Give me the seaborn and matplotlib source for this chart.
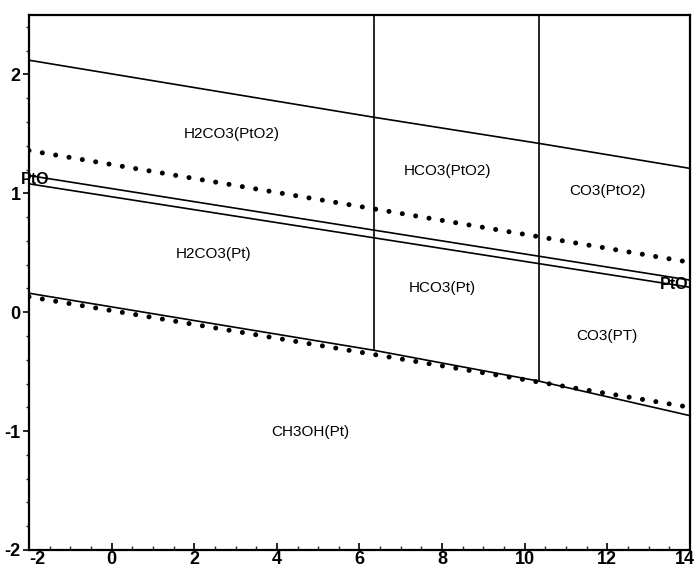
import numpy as np
import pandas as pd
import matplotlib
matplotlib.use("Agg")
import matplotlib.pyplot as plt
import matplotlib.transforms as mtransforms
from matplotlib.ticker import MultipleLocator
import seaborn as sns

# pH values where the carbonate speciation changes
pka1 = 6.35
pka2 = 10.35

# Upper boundary (PtO2 / PtO region edge)
upper_ph = [-2, pka1, pka2, 14]
upper_e = [2.12, 1.64, 1.42, 1.21]

# Oxygen evolution line (dotted)
o2_ph = [-2, 14]
o2_e = [1.36, 0.42]

# Pair of PtO boundary lines
pto_a_ph = [-2, 14]
pto_a_e = [1.15, 0.27]
pto_b_ph = [-2, 14]
pto_b_e = [1.08, 0.21]

# Carbonate / methanol boundary
ch3oh_ph = [-2, pka1, pka2, 14]
ch3oh_e = [0.16, -0.32, -0.58, -0.87]

# Hydrogen evolution line (dotted)
h2_ph = [-2, 14]
h2_e = [0.13, -0.80]

# Vertical speciation boundaries (from top of plot down to methanol line)
vert1_ph = [pka1, pka1]
vert1_e = [2.5, -0.32]
vert2_ph = [pka2, pka2]
vert2_e = [2.5, -0.58]

region_names = ["H2CO3(PtO2)", "HCO3(PtO2)", "CO3(PtO2)",
                "H2CO3(Pt)", "HCO3(Pt)", "CO3(PT)", "CH3OH(Pt)"]
region_ph = [2.92, 8.13, 12.0, 2.46, 8.01, 11.99, 4.81]
region_e = [1.50, 1.19, 1.02, 0.49, 0.20, -0.20, -1.01]

x_ticks = [-2, 0, 2, 4, 6, 8, 10, 12, 14]
y_ticks = [-2, -1, 0, 1, 2]

sns.set_theme(style="white")
plt.rcParams["font.family"] = ["Liberation Sans", "DejaVu Sans"]
plt.rcParams["axes.unicode_minus"] = False

fig = plt.figure(figsize=(6.98, 5.67), dpi=100)
ax = fig.add_axes([0.0415, 0.030, 0.947, 0.9435])

solid_kw = dict(color="black", linewidth=1.2, estimator=None, sort=False, ax=ax)
for xs, ys in [(upper_ph, upper_e), (pto_a_ph, pto_a_e), (pto_b_ph, pto_b_e),
               (ch3oh_ph, ch3oh_e), (vert1_ph, vert1_e), (vert2_ph, vert2_e)]:
    sns.lineplot(x=xs, y=ys, **solid_kw)

dot_lw = 3.6
for xs, ys in [(o2_ph, o2_e), (h2_ph, h2_e)]:
    line = sns.lineplot(x=xs, y=ys, color="black", linewidth=dot_lw,
                        estimator=None, sort=False, ax=ax).lines[-1]
    line.set_linestyle((0, (0.01, 9.7 / dot_lw)))
    line.set_dash_capstyle("round")

for name, px, py in zip(region_names, region_ph, region_e):
    ax.text(px, py, name, ha="center", va="center", fontsize=11, color="black")

ax.text(-2.2, 1.12, "PtO", ha="left", va="center", fontsize=11.5,
        fontweight="bold", color="black", clip_on=False)
ax.text(13.95, 0.235, "PtO", ha="right", va="center", fontsize=11.5,
        fontweight="bold", color="black", clip_on=False)

ax.set_xlim(-2, 14)
ax.set_ylim(-2, 2.5)
ax.set_xticks(x_ticks)
ax.set_yticks(y_ticks)
ax.xaxis.set_minor_locator(MultipleLocator(0.5))
ax.yaxis.set_minor_locator(MultipleLocator(0.2))
ax.tick_params(axis="x", which="major", direction="in", length=5, width=1.2,
               pad=1, labelsize=13, colors="black", bottom=True)
ax.tick_params(axis="x", which="minor", direction="in", length=3, width=1.0,
               bottom=True)
ax.tick_params(axis="y", which="major", direction="out", length=4, width=1.2,
               pad=2, labelsize=13, colors="black", left=True)
ax.tick_params(axis="y", which="minor", direction="out", length=2.5, width=1.0,
               left=True)
for lbl in ax.get_xticklabels() + ax.get_yticklabels():
    lbl.set_fontweight("bold")
ax.get_xticklabels()[0].set_ha("left")
last = ax.get_xticklabels()[-1]
last.set_ha("right")
last.set_transform(last.get_transform() +
                   mtransforms.ScaledTranslation(5 / 100, 0, fig.dpi_scale_trans))

for side in ["left", "right", "top", "bottom"]:
    ax.spines[side].set_visible(True)
    ax.spines[side].set_color("black")
    ax.spines[side].set_linewidth(1.6)

ax.set_xlabel("")
ax.set_ylabel("")
ax.grid(False)

fig.savefig("out.png", dpi=100, facecolor="white")
